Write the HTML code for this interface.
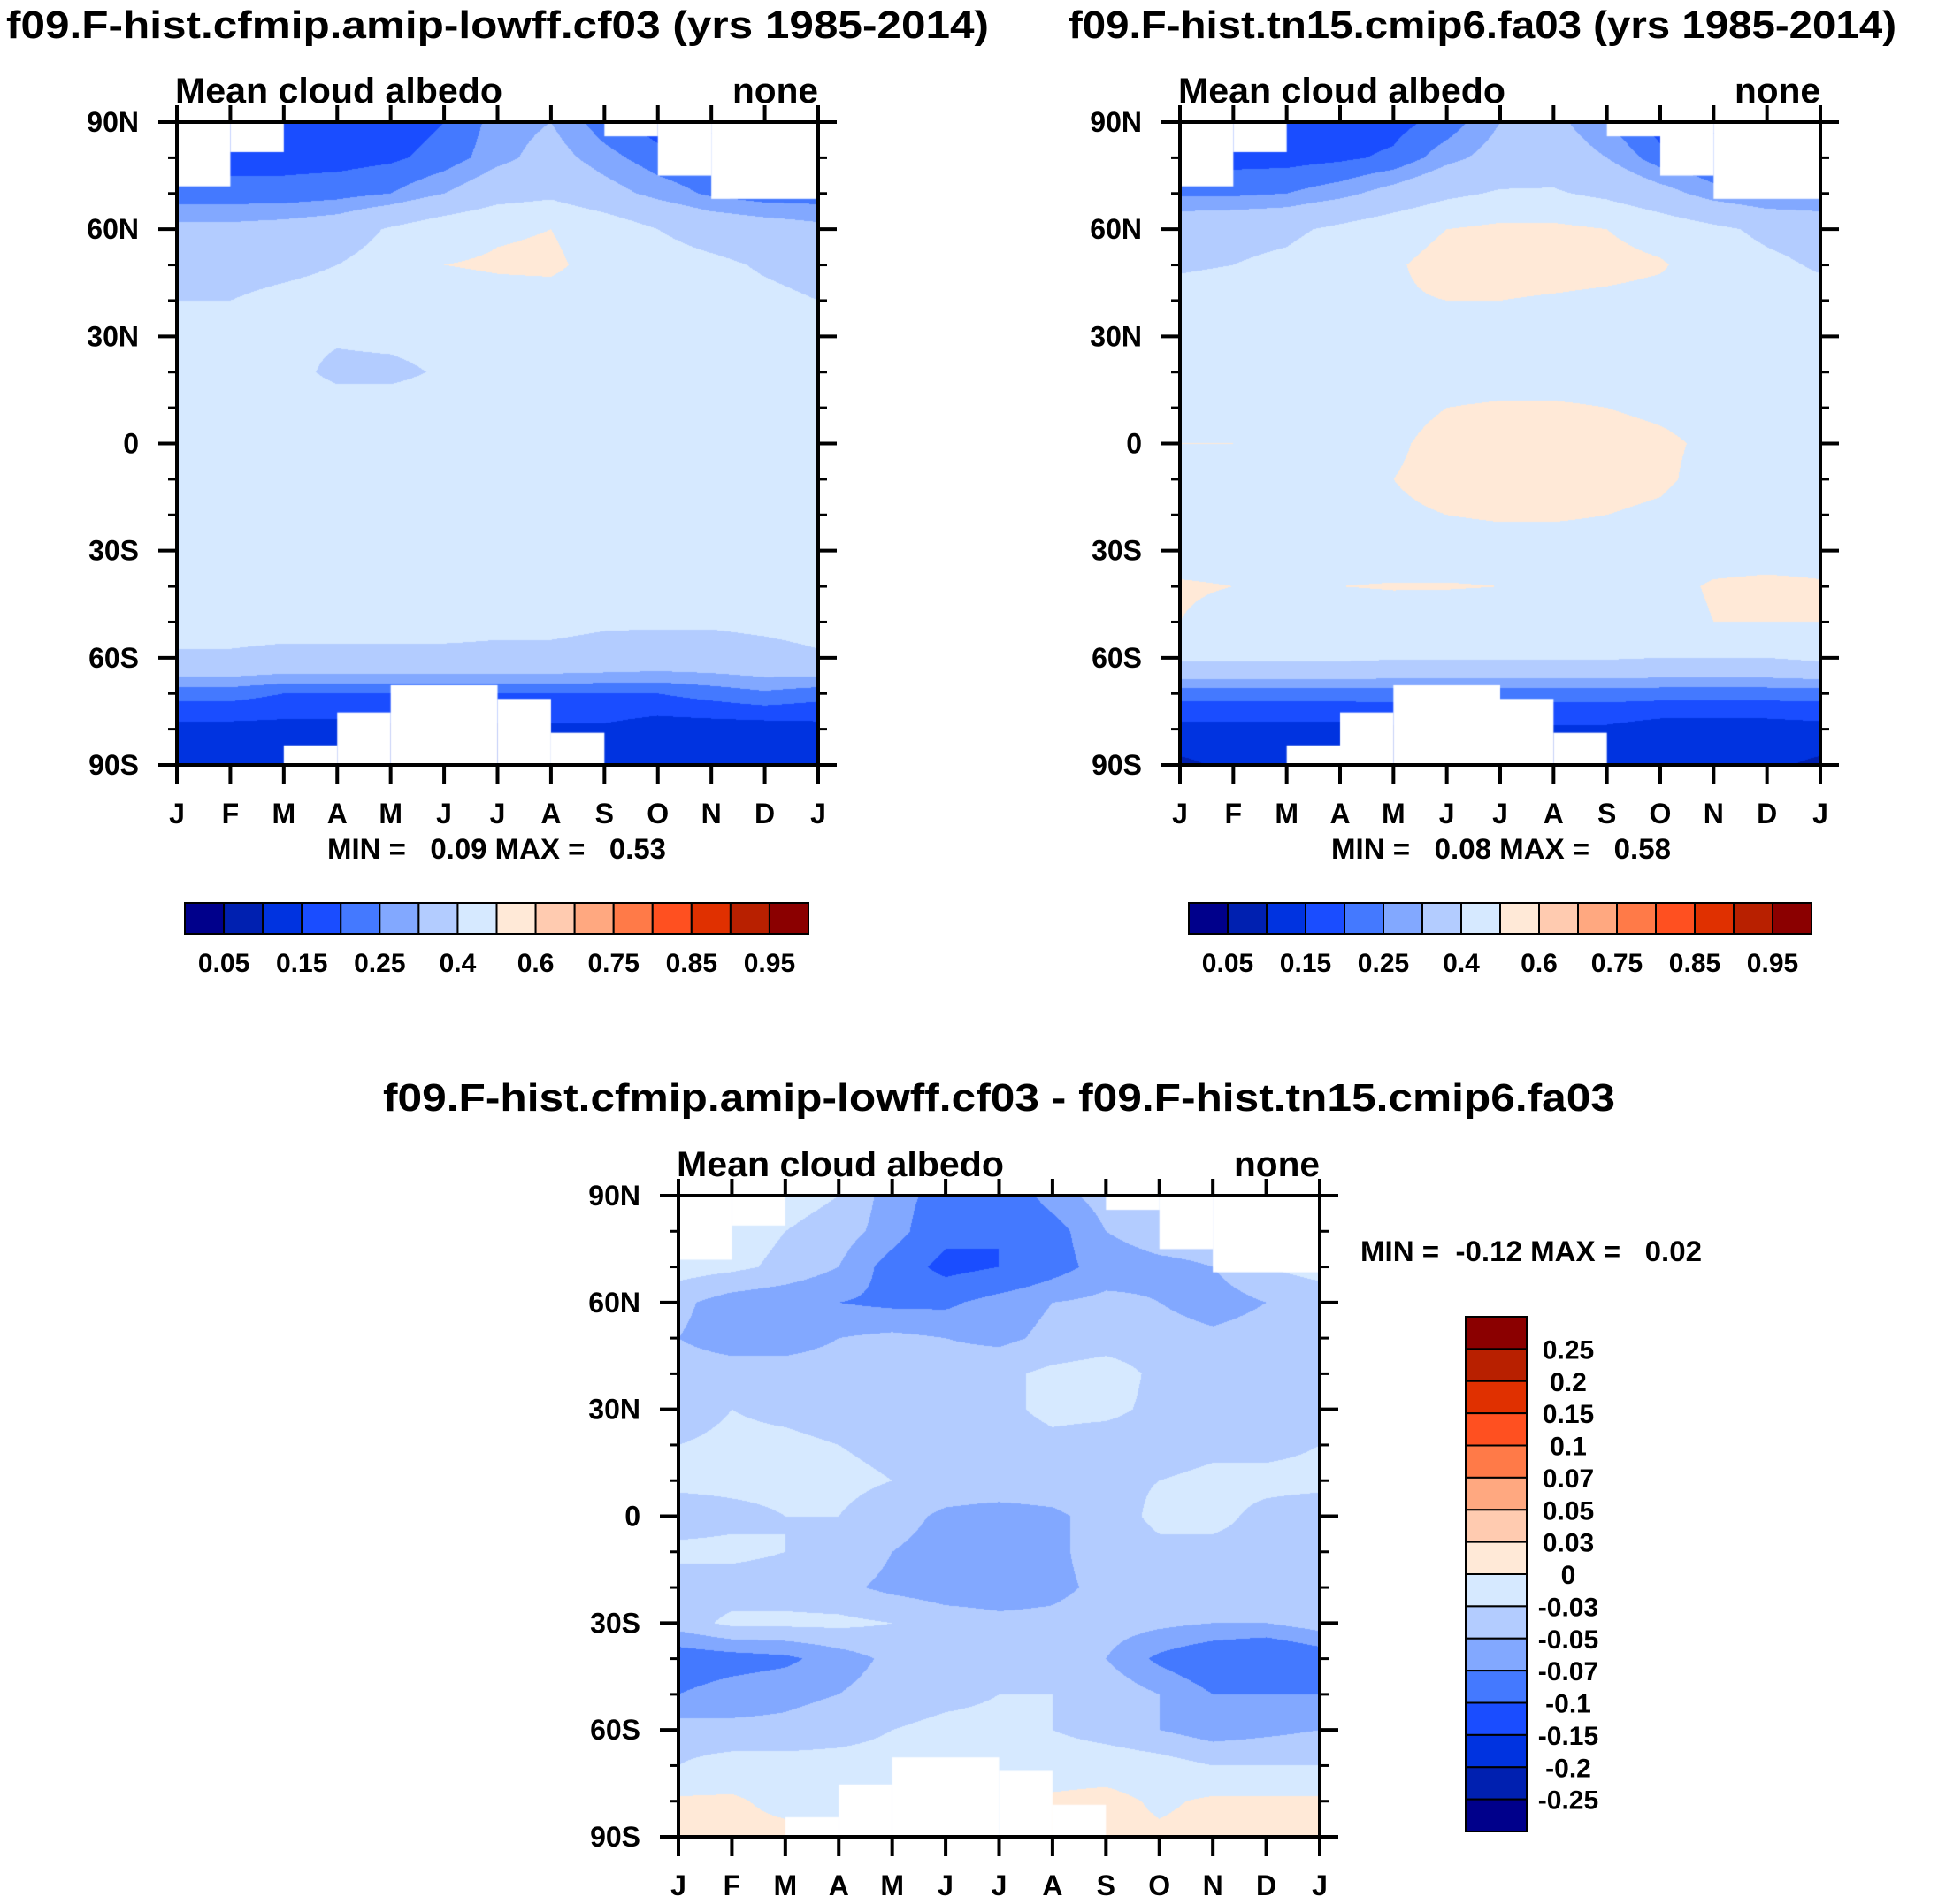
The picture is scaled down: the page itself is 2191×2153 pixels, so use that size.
<!DOCTYPE html>
<html><head><meta charset="utf-8">
<style>
html,body{margin:0;padding:0;background:#fff;}
#root{position:relative;width:2191px;height:2153px;overflow:hidden;background:#fff;}
canvas{position:absolute;}
svg{position:absolute;left:0;top:0;}
text{font-family:"Liberation Sans",sans-serif;font-weight:bold;fill:#000;white-space:pre;}
</style></head>
<body>
<div id="root">
<canvas id="c1"></canvas>
<canvas id="c2"></canvas>
<canvas id="c3"></canvas>
<svg id="svg" width="2191" height="2153"></svg>
</div>
<script>
const monthLabels = ["J","F","M","A","M","J","J","A","S","O","N","D","J"];
const latLabels = ["90N","60N","30N","0","30S","60S","90S"];
const latRows = [90,80,70,60,50,40,30,20,10,0,-10,-20,-30,-40,-50,-60,-70,-80,-90];
const absLevels = [0.05,0.1,0.15,0.2,0.25,0.3,0.4,0.5,0.6,0.7,0.75,0.8,0.85,0.9,0.95];
const absTickLabels = ["0.05","0.15","0.25","0.4","0.6","0.75","0.85","0.95"];
const diffLevels = [-0.25,-0.2,-0.15,-0.1,-0.07,-0.05,-0.03,0,0.03,0.05,0.07,0.1,0.15,0.2,0.25];
const diffTickLabels = ["-0.25","-0.2","-0.15","-0.1","-0.07","-0.05","-0.03","0","0.03","0.05","0.07","0.1","0.15","0.2","0.25"];
const palette = ["#00008b","#0020b0","#0033e0","#1a4dff","#4479ff","#82a8ff","#b3ccff","#d6e9ff","#ffe9d7","#ffcbb0","#ffa880","#ff7a48","#ff5020","#e03000","#b82000","#8b0000"];
// missing regions: [monthStart, monthEnd, latTop, latBottom]
const missingRegions = [[0,1,90,72],[1,2,90,81.6],[8,9,90,86],[9,10,90,75],[10,12,90,68.5],
  [2,3,-84.5,-90],[3,4,-75.3,-90],[4,6,-67.7,-90],[6,7,-71.5,-90],[7,8,-81,-90]];
const cfmipValues = [
[0.2,0.2,0.17,0.17,0.17,0.2,0.27,0.3,0.22,0.17,0.2,0.2,0.2],
[0.2,0.18,0.18,0.18,0.19,0.22,0.28,0.33,0.27,0.22,0.2,0.2,0.2],
[0.22,0.22,0.22,0.23,0.25,0.3,0.36,0.38,0.33,0.28,0.24,0.22,0.22],
[0.32,0.32,0.33,0.35,0.41,0.46,0.49,0.5,0.46,0.4,0.36,0.34,0.32],
[0.36,0.37,0.38,0.4,0.44,0.5,0.51,0.515,0.47,0.44,0.42,0.39,0.37],
[0.4,0.4,0.42,0.43,0.44,0.46,0.47,0.47,0.46,0.45,0.44,0.42,0.4],
[0.42,0.42,0.42,0.41,0.42,0.43,0.44,0.44,0.44,0.44,0.43,0.42,0.42],
[0.43,0.43,0.43,0.38,0.38,0.41,0.43,0.44,0.44,0.44,0.43,0.43,0.43],
[0.44,0.44,0.44,0.44,0.44,0.44,0.44,0.44,0.44,0.44,0.44,0.44,0.44],
[0.45,0.45,0.45,0.45,0.45,0.45,0.45,0.45,0.45,0.45,0.45,0.45,0.45],
[0.45,0.45,0.45,0.45,0.45,0.45,0.45,0.45,0.45,0.45,0.45,0.45,0.45],
[0.44,0.44,0.44,0.44,0.44,0.44,0.44,0.44,0.44,0.44,0.44,0.44,0.44],
[0.44,0.44,0.44,0.43,0.44,0.44,0.44,0.44,0.44,0.44,0.44,0.44,0.44],
[0.44,0.44,0.44,0.44,0.44,0.44,0.44,0.44,0.44,0.44,0.44,0.44,0.44],
[0.43,0.43,0.43,0.43,0.43,0.43,0.42,0.42,0.41,0.41,0.41,0.42,0.43],
[0.39,0.39,0.38,0.38,0.38,0.38,0.38,0.38,0.37,0.36,0.36,0.37,0.39],
[0.22,0.22,0.2,0.2,0.2,0.2,0.2,0.2,0.2,0.2,0.22,0.24,0.22],
[0.13,0.13,0.13,0.13,0.14,0.14,0.14,0.14,0.14,0.12,0.12,0.12,0.13],
[0.12,0.12,0.12,0.12,0.12,0.12,0.12,0.12,0.11,0.11,0.11,0.11,0.12]];
const cmip6Values = [
[0.2,0.2,0.17,0.17,0.18,0.22,0.3,0.32,0.25,0.17,0.2,0.2,0.2],
[0.2,0.18,0.18,0.19,0.21,0.28,0.33,0.35,0.3,0.22,0.2,0.2,0.2],
[0.24,0.24,0.25,0.28,0.33,0.38,0.41,0.41,0.38,0.33,0.27,0.24,0.24],
[0.36,0.37,0.38,0.42,0.46,0.5,0.52,0.52,0.5,0.46,0.42,0.38,0.36],
[0.39,0.4,0.42,0.46,0.49,0.53,0.54,0.54,0.53,0.51,0.45,0.42,0.39],
[0.43,0.44,0.45,0.47,0.49,0.5,0.5,0.49,0.48,0.47,0.46,0.45,0.43],
[0.46,0.46,0.46,0.46,0.46,0.46,0.46,0.46,0.46,0.46,0.46,0.46,0.46],
[0.46,0.46,0.46,0.46,0.46,0.46,0.46,0.46,0.46,0.46,0.46,0.46,0.46],
[0.47,0.47,0.47,0.47,0.48,0.5,0.51,0.51,0.5,0.49,0.48,0.47,0.47],
[0.5,0.5,0.49,0.48,0.49,0.52,0.53,0.53,0.52,0.51,0.49,0.49,0.5],
[0.47,0.47,0.46,0.47,0.5,0.52,0.53,0.53,0.52,0.51,0.48,0.47,0.47],
[0.46,0.46,0.46,0.47,0.49,0.5,0.51,0.51,0.5,0.49,0.47,0.46,0.46],
[0.46,0.46,0.46,0.46,0.46,0.46,0.46,0.46,0.46,0.46,0.46,0.46,0.46],
[0.51,0.5,0.47,0.5,0.505,0.505,0.5,0.48,0.46,0.47,0.51,0.52,0.51],
[0.5,0.47,0.45,0.45,0.46,0.45,0.45,0.45,0.45,0.46,0.5,0.5,0.5],
[0.42,0.42,0.42,0.42,0.41,0.41,0.41,0.41,0.41,0.4,0.4,0.4,0.42],
[0.22,0.22,0.22,0.22,0.22,0.22,0.22,0.22,0.22,0.22,0.22,0.22,0.22],
[0.13,0.13,0.13,0.13,0.14,0.14,0.14,0.14,0.14,0.12,0.12,0.12,0.13],
[0.09,0.11,0.11,0.11,0.11,0.11,0.11,0.11,0.11,0.11,0.11,0.11,0.09]];
const diffValues = [
[-0.02,-0.02,-0.02,-0.03,-0.06,-0.08,-0.09,-0.06,-0.04,-0.04,-0.03,-0.02,-0.02],
[-0.02,-0.02,-0.03,-0.04,-0.06,-0.09,-0.1,-0.08,-0.05,-0.04,-0.04,-0.03,-0.02],
[-0.02,-0.025,-0.035,-0.05,-0.08,-0.11,-0.1,-0.08,-0.06,-0.055,-0.05,-0.03,-0.02],
[-0.045,-0.06,-0.065,-0.07,-0.075,-0.075,-0.06,-0.05,-0.045,-0.05,-0.06,-0.05,-0.045],
[-0.05,-0.06,-0.06,-0.05,-0.045,-0.05,-0.055,-0.045,-0.04,-0.04,-0.045,-0.04,-0.04],
[-0.04,-0.04,-0.04,-0.04,-0.04,-0.04,-0.035,-0.025,-0.02,-0.035,-0.04,-0.04,-0.04],
[-0.04,-0.03,-0.035,-0.04,-0.045,-0.04,-0.035,-0.025,-0.025,-0.035,-0.04,-0.04,-0.04],
[-0.03,-0.025,-0.025,-0.03,-0.035,-0.04,-0.04,-0.035,-0.04,-0.04,-0.035,-0.035,-0.03],
[-0.025,-0.025,-0.025,-0.025,-0.03,-0.035,-0.035,-0.035,-0.035,-0.03,-0.025,-0.025,-0.025],
[-0.04,-0.035,-0.03,-0.03,-0.04,-0.055,-0.06,-0.055,-0.04,-0.025,-0.025,-0.035,-0.04],
[-0.025,-0.025,-0.03,-0.035,-0.05,-0.06,-0.06,-0.055,-0.04,-0.035,-0.035,-0.035,-0.03],
[-0.04,-0.04,-0.04,-0.045,-0.055,-0.06,-0.06,-0.055,-0.045,-0.04,-0.04,-0.04,-0.04],
[-0.04,-0.025,-0.025,-0.025,-0.03,-0.04,-0.045,-0.045,-0.04,-0.045,-0.05,-0.05,-0.04],
[-0.085,-0.08,-0.075,-0.06,-0.045,-0.04,-0.04,-0.04,-0.05,-0.075,-0.09,-0.1,-0.085],
[-0.07,-0.06,-0.055,-0.05,-0.04,-0.035,-0.03,-0.03,-0.035,-0.05,-0.07,-0.07,-0.07],
[-0.04,-0.045,-0.045,-0.04,-0.03,-0.025,-0.025,-0.03,-0.04,-0.05,-0.06,-0.055,-0.05],
[-0.03,-0.02,-0.02,-0.02,-0.02,-0.02,-0.02,-0.015,-0.015,-0.02,-0.03,-0.03,-0.03],
[0.005,0.005,-0.01,-0.01,-0.01,-0.01,-0.01,0.005,0.01,-0.005,0.005,0.005,0.005],
[0.01,0.01,0.01,0.0,0.0,0.0,0.0,0.0,0.01,0.005,0.01,0.01,0.01]];

const NS="http://www.w3.org/2000/svg";
const svg=document.getElementById('svg');
function mk(tag,attrs,parent){const e=document.createElementNS(NS,tag);for(const k in attrs)e.setAttribute(k,attrs[k]);(parent||svg).appendChild(e);return e;}
function txt(s,x,y,size,anchor,name,tl){const t=mk('text',{x:x,y:y,'font-size':size,'text-anchor':anchor||'start'});if(tl){t.setAttribute('textLength',tl);t.setAttribute('lengthAdjust','spacingAndGlyphs');}t.textContent=s;


return t;}

function drawPanel(cid,P,values,levels){
  const cv=document.getElementById(cid);
  cv.width=P.w;cv.height=P.h;cv.style.left=P.x+'px';cv.style.top=P.y+'px';
  const ctx=cv.getContext('2d');
  const img=ctx.createImageData(P.w,P.h);
  const rgb=palette.map(c=>[parseInt(c.substr(1,2),16),parseInt(c.substr(3,2),16),parseInt(c.substr(5,2),16)]);
  const nr=latRows.length, nc=values[0].length;
  for(let py=0;py<P.h;py++){
    const lat=90-(py+0.5)/P.h*180;
    let rf=(90-lat)/10; let r0=Math.min(nr-2,Math.floor(rf)); const fy=rf-r0;
    for(let px=0;px<P.w;px++){
      const cf=(px+0.5)/P.w*12; const c0=Math.min(nc-2,Math.floor(cf)); const fx=cf-c0;
      const v=(values[r0][c0]*(1-fx)+values[r0][c0+1]*fx)*(1-fy)+(values[r0+1][c0]*(1-fx)+values[r0+1][c0+1]*fx)*fy;
      let b=0; while(b<levels.length&&v>=levels[b])b++;
      const col=rgb[b]; const i=(py*P.w+px)*4;
      img.data[i]=col[0];img.data[i+1]=col[1];img.data[i+2]=col[2];img.data[i+3]=255;
    }
  }
  ctx.putImageData(img,0,0);
  ctx.fillStyle='#fff';
  const xs=m=>m/12*P.w, ys=l=>(90-l)/180*P.h;
  missingRegions.forEach(r=>{ctx.fillRect(xs(r[0]),ys(r[2]),xs(r[1])-xs(r[0]),ys(r[3])-ys(r[2]));});
}

function axes(P,tag){
  const g=mk('g',{});
  
  
  const X=m=>P.x+m/12*P.w, Y=l=>P.y+(90-l)/180*P.h;
  for(let m=0;m<=12;m++){
    mk('line',{x1:X(m),x2:X(m),y1:P.y+P.h,y2:P.y+P.h+22,stroke:'#000','stroke-width':4},g);
    mk('line',{x1:X(m),x2:X(m),y1:P.y,y2:P.y-19,stroke:'#000','stroke-width':4},g);
    txt(monthLabels[m],X(m),P.y+P.h+66,32,'middle',tag+'-month-label');
  }
  for(let l=-90;l<=90;l+=10){
    const major=(l%30===0); const len=major?21:10;
    mk('line',{x1:P.x-len,x2:P.x,y1:Y(l),y2:Y(l),stroke:'#000','stroke-width':major?4:3},g);
    mk('line',{x1:P.x+P.w,x2:P.x+P.w+len,y1:Y(l),y2:Y(l),stroke:'#000','stroke-width':major?4:3},g);
  }
  latLabels.forEach((s,i)=>txt(s,P.x-43,Y(90-i*30)+11,32,'end',tag+'-lat-label'));
  mk('rect',{x:P.x,y:P.y,width:P.w,height:P.h,fill:'none',stroke:'#000','stroke-width':4},g);
  txt('Mean cloud albedo',P.x-2,P.y-22,40,'start',tag+'-subtitle-left',370);
  txt('none',P.x+P.w,P.y-22,40,'end',tag+'-subtitle-right',97);
}

function hbar(x0,y0,w,h,tag){
  const bw=w/16;
  palette.forEach((c,i)=>{const r=mk('rect',{x:x0+i*bw,y:y0,width:bw,height:h,fill:c,stroke:'#000','stroke-width':2});
  
  });
  absTickLabels.forEach((s,i)=>txt(s,x0+(2*i+1)*bw,y0+h+43,30,'middle',tag+'-colorbar-label'));
}

const P1={x:200,y:138,w:725,h:727}, P2={x:1334,y:138,w:724,h:727}, P3={x:767,y:1352,w:725,h:725};
drawPanel('c1',P1,cfmipValues,absLevels);
drawPanel('c2',P2,cmip6Values,absLevels);
drawPanel('c3',P3,diffValues,diffLevels);
axes(P1,'panel1');axes(P2,'panel2');axes(P3,'panel3');
txt('f09.F-hist.cfmip.amip-lowff.cf03 (yrs 1985-2014)',7,43,44,'start','panel1-title',1111);
txt('f09.F-hist.tn15.cmip6.fa03 (yrs 1985-2014)',1208,43,44,'start','panel2-title',936);
txt('f09.F-hist.cfmip.amip-lowff.cf03 - f09.F-hist.tn15.cmip6.fa03',433,1256,44,'start','panel3-title',1393);
txt('MIN =   0.09 MAX =   0.53',370,971,32,'start','panel1-minmax',383);
txt('MIN =   0.08 MAX =   0.58',1505,971,32,'start','panel2-minmax',384);
txt('MIN =  -0.12 MAX =   0.02',1538,1426,32,'start','panel3-minmax',386);
hbar(209,1021,705,35,'panel1');
hbar(1344,1021,704,35,'panel2');
// vertical colorbar for difference panel (top = high values)
(function(){const x0=1657,y0=1489,w=69,h=582,bh=h/16;
  palette.slice().reverse().forEach((c,i)=>{const r=mk('rect',{x:x0,y:y0+i*bh,width:w,height:bh,fill:c,stroke:'#000','stroke-width':2});
  
  });
  diffTickLabels.slice().reverse().forEach((s,i)=>txt(s,1773,y0+(i+1)*bh+11,30,'middle','panel3-colorbar-label'));
})();
</script>
</body></html>
